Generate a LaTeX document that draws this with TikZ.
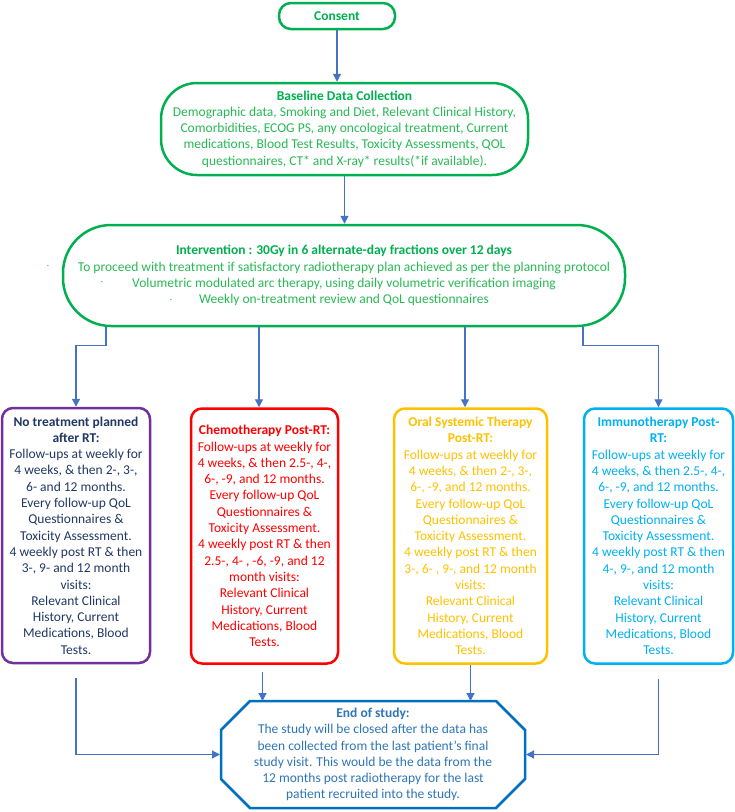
\documentclass[tikz,border=0pt]{standalone}
\usepackage{fontspec}
\setmainfont{Carlito}
\usetikzlibrary{arrows.meta}
\definecolor{grn}{RGB}{0,176,80}
\definecolor{grntxt}{RGB}{40,185,85}
\definecolor{conblue}{RGB}{68,114,196}
\definecolor{purp}{RGB}{112,48,160}
\definecolor{navy}{RGB}{32,56,100}
\definecolor{redc}{RGB}{255,0,0}
\definecolor{gold}{RGB}{255,192,0}
\definecolor{lblue}{RGB}{0,176,240}
\definecolor{oct}{RGB}{0,112,192}
\definecolor{octtxt}{RGB}{46,117,182}
\tikzset{
  txt/.style={font=\fontsize{13.5pt}{16.3pt}\selectfont, align=center, inner sep=0pt},
  greenbox/.style={txt, draw=grn, line width=2.5pt, text=grntxt},
  fbox/.style={txt, line width=2.5pt, rounded corners=11pt, minimum height=255pt},
  conn/.style={draw=conblue, line width=1.2pt, -{Triangle[length=8pt,width=8pt]}},
  dotmark/.style={font=\fontsize{9pt}{9pt}\selectfont, text=grntxt, inner sep=0pt}
}
\begin{document}
\begin{tikzpicture}[x=1pt,y=-1pt]
\useasboundingbox (0,0) rectangle (735,812);
% top nodes
\node[greenbox, rounded corners=12pt, minimum width=116pt, minimum height=26pt] (consent) at (337,16) {\textbf{\textcolor{grn}{Consent}}};
\node[greenbox, rounded corners=36pt, minimum width=367pt, minimum height=92pt] (base) at (344.5,129)
 {\textbf{\textcolor{grn}{Baseline Data Collection}}\\Demographic data, Smoking and Diet, Relevant Clinical History,\\Comorbidities, ECOG PS, any oncological treatment, Current\\medications, Blood Test Results, Toxicity Assessments, QOL\\questionnaires, CT* and X-ray* results(*if available).};
\node[greenbox, rounded corners=48pt, minimum width=562pt, minimum height=101pt] (interv) at (344,275.5)
 {\textbf{\textcolor{grn}{Intervention : 30Gy in 6 alternate-day fractions over 12 days}}\\To proceed with treatment if satisfactory radiotherapy plan achieved as per the planning protocol\\Volumetric modulated arc therapy, using daily volumetric verification imaging\\Weekly on-treatment review and QoL questionnaires};
\node[dotmark] (d1) at (48,267) {·};
\node[dotmark] (d2) at (102,283) {·};
\node[dotmark] (d3) at (171,301) {·};
% four follow-up boxes
\node[fbox, draw=purp, text=navy, minimum width=148pt] (box1) at (76,535.5)
 {\textbf{No treatment planned}\\\textbf{after RT:}\\Follow-ups at weekly for\\4 weeks, \& then 2-, 3-,\\6- and 12 months.\\Every follow-up QoL\\Questionnaires \&\\Toxicity Assessment.\\4 weekly post RT \& then\\3-, 9- and 12 month\\visits:\\Relevant Clinical\\History, Current\\Medications, Blood\\Tests.};
\node[fbox, draw=redc, text=redc, minimum width=147pt] (box2) at (264.5,536)
 {\textbf{Chemotherapy Post-RT:}\\Follow-ups at weekly for\\4 weeks, \& then 2.5-, 4-,\\6-, -9, and 12 months.\\Every follow-up QoL\\Questionnaires \&\\Toxicity Assessment.\\4 weekly post RT \& then\\2.5-, 4- , -6, -9, and 12\\month visits:\\Relevant Clinical\\History, Current\\Medications, Blood\\Tests.};
\node[fbox, draw=gold, text=gold, minimum width=153pt] (box3) at (470.5,536)
 {\textbf{Oral Systemic Therapy}\\\textbf{Post-RT:}\\Follow-ups at weekly for\\4 weeks, \& then 2-, 3-,\\6-, -9, and 12 months.\\Every follow-up QoL\\Questionnaires \&\\Toxicity Assessment.\\4 weekly post RT \& then\\3-, 6- , 9-, and 12 month\\visits:\\Relevant Clinical\\History, Current\\Medications, Blood\\Tests.};
\node[fbox, draw=lblue, text=lblue, minimum width=149pt] (box4) at (658.5,536)
 {\textbf{Immunotherapy Post-}\\\textbf{RT:}\\Follow-ups at weekly for\\4 weeks, \& then 2.5-, 4-,\\6-, -9, and 12 months.\\Every follow-up QoL\\Questionnaires \&\\Toxicity Assessment.\\4 weekly post RT \& then\\4-, 9-, and 12 month\\visits:\\Relevant Clinical\\History, Current\\Medications, Blood\\Tests.};
% end of study octagon
\node[txt, text=octtxt, outer sep=0pt, minimum width=304pt, minimum height=107pt] (endst) at (373,754.5)
 {\textbf{End of study:}\\The study will be closed after the data has\\been collected from the last patient's final\\study visit. This would be the data from the\\12 months post radiotherapy for the last\\patient recruited into the study.};
\draw[draw=oct, line width=2.5pt, line join=miter]
 ([xshift=29pt]endst.north west) -- ([xshift=-29pt]endst.north east)
 -- ([yshift=-29pt]endst.north east) -- ([yshift=29pt]endst.south east)
 -- ([xshift=-29pt]endst.south east) -- ([xshift=29pt]endst.south west)
 -- ([yshift=29pt]endst.south west) -- ([yshift=-29pt]endst.north west) -- cycle;
% connectors
\draw[conn] (consent.south) -- (consent.south |- base.north);
\draw[conn] (base.south) -- (base.south |- interv.north);
\draw[conn] ([xshift=-238pt]interv.south) -- ++(0,18) -| (box1.north);
\draw[conn] ([xshift=-85pt]interv.south) -- ([xshift=-85pt]interv.south |- box2.north);
\draw[conn] ([xshift=121pt]interv.south) -- ([xshift=121pt]interv.south |- box3.north);
\draw[conn] ([xshift=239pt]interv.south) -- ++(0,18) -| (box4.north);
\draw[conn, shorten <=14pt] (box1.south) |- ([xshift=-1pt]endst.west);
\draw[conn, shorten <=14pt] (box4.south) |- ([xshift=1pt]endst.east);
\draw[conn, shorten <=7pt] ([xshift=-2pt]box2.south) -- ([xshift=-2pt]box2.south |- endst.north);
\draw[conn] (box3.south) -- (box3.south |- endst.north);
\end{tikzpicture}
\end{document}
